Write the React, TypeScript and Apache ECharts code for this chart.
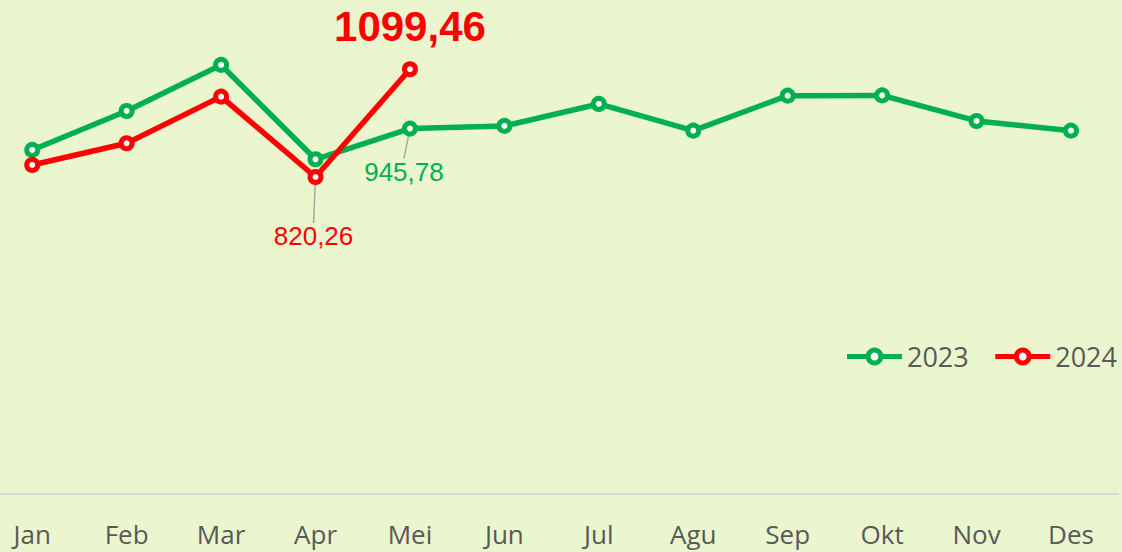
import React, { useEffect, useRef } from "react";
import * as echarts from "echarts";

const months = ["Jan", "Feb", "Mar", "Apr", "Mei", "Jun", "Jul", "Agu", "Sep", "Okt", "Nov", "Des"];
const values2023 = [890.4, 991.4, 1110.7, 866.2, 945.78, 952.6, 1009.6, 940.4, 1031.1, 1031.8, 965.5, 940.4];
const values2024: (number | null)[] = [851.5, 907.7, 1028.5, 820.26, 1099.46, null, null, null, null, null, null, null];
const seriesNames = ["2023", "2024"];

const GREEN = "#00B050";
const RED = "#FF0000";
const BG = "#EBF6CE";

const fmt = (v: number) => v.toFixed(2).replace(".", ",");

export default function App() {
  const ref = useRef<HTMLDivElement>(null);
  useEffect(() => {
    document.body.style.margin = "0";
    if (!ref.current) return;
    const chart = echarts.init(ref.current, null, { renderer: "svg" });

    const smallLabel = (color: string) => ({
      show: true,
      position: "bottom",
      formatter: (p: any) => fmt(p.value),
      color,
      fontSize: 26,
      fontFamily: "Liberation Sans, Arial, sans-serif",
    });
    const leader = { show: true, lineStyle: { color: "#A6A6A6", width: 1.5 } };

    const data2023 = values2023.map((v, i) =>
      i === 4 ? { value: v, label: smallLabel(GREEN), labelLine: leader } : v
    );
    const data2024 = values2024.map((v, i) => {
      if (i === 3) return { value: v, label: smallLabel(RED), labelLine: leader };
      if (i === 4)
        return {
          value: v,
          label: {
            show: true,
            position: "top",
            distance: 14,
            formatter: (p: any) => fmt(p.value),
            color: RED,
            fontSize: 42,
            fontWeight: "bold",
            fontFamily: "Liberation Sans, Arial, sans-serif",
          },
        };
      return v;
    });

    chart.setOption({
      animation: false,
      backgroundColor: BG,
      grid: { left: 0, right: 3.8, top: 0, bottom: 58.5, containLabel: false },
      legend: {
        data: seriesNames,
        right: 0,
        top: 338,
        itemWidth: 55,
        itemHeight: 16,
        itemGap: 24,
        lineStyle: { width: 5 },
        itemStyle: { borderWidth: 5 },
        textStyle: { fontSize: 27, color: "#595959", fontFamily: "Open Sans, sans-serif" },
      },
      xAxis: {
        type: "category",
        data: months,
        boundaryGap: true,
        axisLine: { show: true, lineStyle: { color: "#D9D9D9", width: 2 } },
        axisTick: { show: false },
        axisLabel: {
          fontSize: 26,
          color: "#595959",
          margin: 27,
          fontFamily: "Open Sans, sans-serif",
        },
      },
      yAxis: {
        type: "value",
        min: 0,
        max: 1279,
        show: false,
        splitLine: { show: false },
      },
      series: [
        {
          name: seriesNames[0],
          type: "line",
          data: data2023,
          symbol: "circle",
          symbolSize: 11,
          itemStyle: { color: "#FFFFFF", borderColor: GREEN, borderWidth: 5 },
          lineStyle: { color: GREEN, width: 5.5 },
          labelLayout: (p: any) => (p.dataIndex === 4 ? { dx: -6, dy: 17 } : {}),
          z: 2,
        },
        {
          name: seriesNames[1],
          type: "line",
          data: data2024,
          symbol: "circle",
          symbolSize: 11,
          connectNulls: false,
          itemStyle: { color: "#FFFFFF", borderColor: RED, borderWidth: 5 },
          lineStyle: { color: RED, width: 5.5 },
          labelLayout: (p: any) => (p.dataIndex === 3 ? { dx: -2, dy: 33 } : {}),
          z: 3,
        },
      ],
    });
    return () => chart.dispose();
  }, []);
  return (
    <div
      ref={ref}
      style={{ position: "absolute", left: -15, top: 0, width: 1137, height: 552 }}
    />
  );
}
